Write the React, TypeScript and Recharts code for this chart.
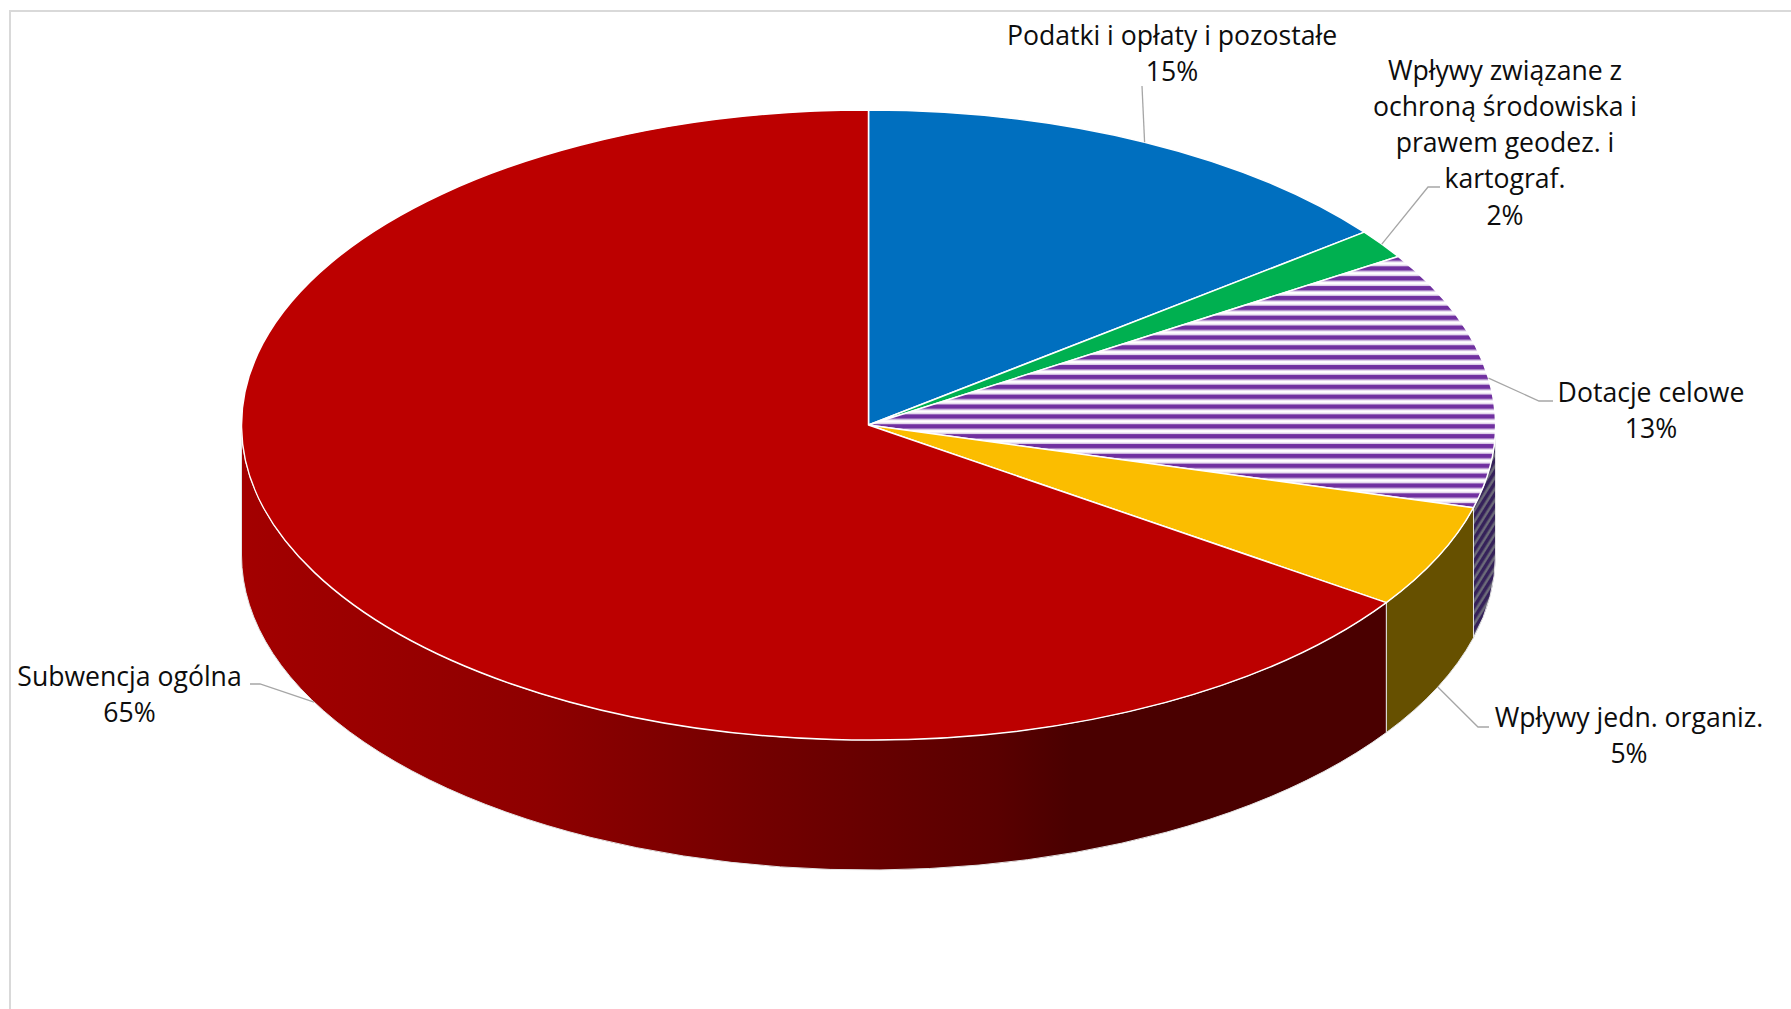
import { PieChart, Pie } from "recharts"

const names = [
    ["Podatki i opłaty i pozostałe"],
    ["Wpływy związane z", "ochroną środowiska i", "prawem geodez. i", "kartograf."],
    ["Dotacje celowe"],
    ["Wpływy jedn. organiz."],
    ["Subwencja ogólna"],
]
const shares = [14.5, 1.5, 13.2, 5.3, 65.4]
const topColors = ["#006FBF", "#00B050", "url(#topStripes)", "#FBBD00", "#BC0000"]
const wallColors = ["#004A80", "#00753A", "url(#wallStripes)", "#665000", "url(#redWall)"]

const data = shares.map((value, i) => ({ name: names[i].join(" "), value }))

const WIDTH = 1791
const HEIGHT = 1009
const CX = 868.5
const CY = 425
const RX = 627
const RY = 315
const DEPTH = 130
const FONT = "'Open Sans', sans-serif"

// label centre and leader bend points per slice
const labelLayout = [
    { x: 1172, y: 35, line: [[1142, 86]] },
    { x: 1505, y: 70, line: [[1428, 187], [1440, 187]] },
    { x: 1651, y: 392.5, line: [[1539, 401], [1553, 401]] },
    { x: 1629, y: 717.5, line: [[1478, 727], [1489, 727]] },
    { x: 129.5, y: 676, line: [[260, 684], [250, 684]] },
]

function pt(angle: number, dy = 0) {
    const a = (angle * Math.PI) / 180
    return [CX + RX * Math.cos(a), CY - RY * Math.sin(a) + dy]
}

// the pie is tilted, so a circular sector is drawn on an ellipse
function TopSlice(props: any) {
    const { startAngle, endAngle, index } = props
    const [x0, y0] = pt(startAngle)
    const [x1, y1] = pt(endAngle)
    const large = Math.abs(startAngle - endAngle) > 180 ? 1 : 0
    const d = `M${CX},${CY}L${x0},${y0}A${RX},${RY} 0 ${large} 1 ${x1},${y1}Z`
    return <path d={d} fill={topColors[index]} stroke="#fff" strokeWidth={1.5} strokeLinejoin="round" />
}

function WallSlice(props: any) {
    const { startAngle, endAngle, index } = props
    const s = Math.min(startAngle, 0)
    const e = Math.max(endAngle, -180)
    if (s <= e) return null
    const [x0, y0] = pt(s)
    const [x1, y1] = pt(e)
    const d = `M${x0},${y0}A${RX},${RY} 0 0 1 ${x1},${y1}L${x1},${y1 + DEPTH}A${RX},${RY} 0 0 0 ${x0},${y0 + DEPTH}Z`
    return <path d={d} fill={wallColors[index]} stroke="#e4e4e4" strokeWidth={1} />
}

function SliceLabel(props: any) {
    const { index, midAngle, percent } = props
    const layout = labelLayout[index]
    const onWall = Math.sin((midAngle * Math.PI) / 180) < 0
    const start = pt(midAngle, onWall ? DEPTH : 0)
    const points = [start, ...layout.line].map(p => p.join(",")).join(" ")
    const rows = [...names[index], `${Math.round(percent * 100)}%`]
    return (
        <g>
            <polyline points={points} fill="none" stroke="#A6A6A6" strokeWidth={1.3} />
            <text textAnchor="middle" fontFamily={FONT} fontSize={26.6} fill="#0D0D0D">
                {rows.map((row: string, i: number) => (
                    <tspan key={i} x={layout.x} y={layout.y + 9.5 + i * 36.3}>{row}</tspan>
                ))}
            </text>
        </g>
    )
}

export default function App() {
    return (
        <div style={{ position: "absolute", left: 0, top: 0, width: WIDTH, height: HEIGHT, background: "#fff", overflow: "hidden" }}>
            <div style={{ position: "absolute", left: 9, top: 10, width: WIDTH, height: HEIGHT, borderLeft: "2px solid #D9D9D9", borderTop: "2px solid #D9D9D9" }} />
            <PieChart width={WIDTH} height={HEIGHT} margin={{ top: 0, right: 0, bottom: 0, left: 0 }} style={{ position: "absolute", left: 0, top: 0 }}>
                <defs>
                    <pattern id="topStripes" patternUnits="userSpaceOnUse" width={20} height={9.87} y={402.5}>
                        <rect width={20} height={9.87} fill="#fff" />
                        <rect y={0.6} width={20} height={7.2} fill="#DCCDE8" />
                        <rect y={2} width={20} height={4.4} fill="#7030A0" />
                    </pattern>
                    <pattern id="wallStripes" patternUnits="userSpaceOnUse" width={20} height={6} patternTransform="rotate(-58)">
                        <rect width={20} height={6} fill="#35215A" />
                        <rect y={1.5} width={20} height={2.4} fill="#6E6E7A" />
                    </pattern>
                    <linearGradient id="redWall" gradientUnits="userSpaceOnUse" x1={241} y1={0} x2={1387} y2={0}>
                        <stop offset="0%" stopColor="#A30000" />
                        <stop offset="26%" stopColor="#8E0000" />
                        <stop offset="46%" stopColor="#720000" />
                        <stop offset="66%" stopColor="#590000" />
                        <stop offset="72.5%" stopColor="#4A0000" />
                        <stop offset="100%" stopColor="#4A0000" />
                    </linearGradient>
                </defs>
                <Pie
                    data={data}
                    dataKey="value"
                    nameKey="name"
                    cx={CX}
                    cy={CY}
                    innerRadius={0}
                    outerRadius={RX}
                    startAngle={90}
                    endAngle={-270}
                    shape={WallSlice}
                    label={false}
                    labelLine={false}
                    isAnimationActive={false}
                />
                <Pie
                    data={data}
                    dataKey="value"
                    nameKey="name"
                    cx={CX}
                    cy={CY}
                    innerRadius={0}
                    outerRadius={RX}
                    startAngle={90}
                    endAngle={-270}
                    shape={TopSlice}
                    label={SliceLabel}
                    labelLine={false}
                    isAnimationActive={false}
                />
            </PieChart>
        </div>
    )
}
